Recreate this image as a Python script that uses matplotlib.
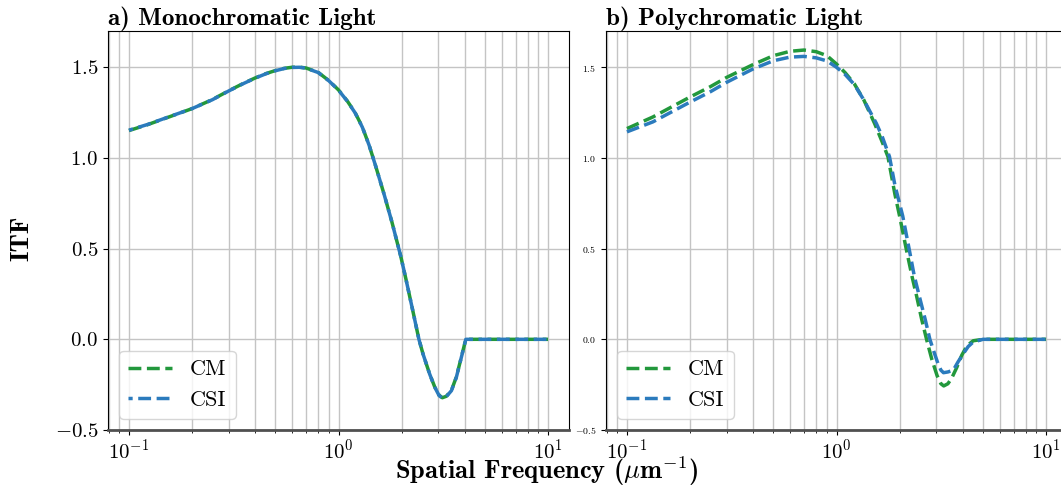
import numpy as np
import matplotlib
matplotlib.use('Agg')
import matplotlib.pyplot as plt

plt.rcParams['font.family'] = 'serif'
plt.rcParams['font.serif'] = ['cmr10']
plt.rcParams['mathtext.fontset'] = 'cm'
plt.rcParams['axes.formatter.use_mathtext'] = True

# a) monochromatic light
mono_freq = [0.1, 0.123, 0.151, 0.2, 0.25, 0.3, 0.35, 0.4, 0.45, 0.5, 0.55, 0.6, 0.65,
             0.7, 0.8, 0.9, 1.0, 1.1, 1.2, 1.3, 1.4, 1.5, 1.65, 1.8, 1.98, 2.1, 2.27,
             2.42, 2.53, 2.72, 2.88, 3.02, 3.13, 3.27, 3.46, 3.65, 3.86, 4.05, 5, 6, 7,
             8, 9, 10]
mono_cm = [1.151, 1.184, 1.221, 1.272, 1.322, 1.371, 1.41, 1.441, 1.465, 1.482, 1.494,
           1.5, 1.501, 1.496, 1.472, 1.426, 1.375, 1.315, 1.25, 1.17, 1.07, 0.96, 0.80,
           0.645, 0.46, 0.33, 0.15, 0.0, -0.08, -0.19, -0.263, -0.308, -0.322, -0.314,
           -0.281, -0.208, -0.097, 0.0, 0, 0, 0, 0, 0, 0]
mono_csi = [1.153, 1.185, 1.222, 1.272, 1.321, 1.370, 1.409, 1.440, 1.464, 1.481, 1.493,
            1.499, 1.500, 1.495, 1.471, 1.425, 1.374, 1.314, 1.249, 1.169, 1.07, 0.96,
            0.80, 0.645, 0.46, 0.33, 0.15, 0.0, -0.08, -0.19, -0.264, -0.31, -0.324,
            -0.316, -0.283, -0.21, -0.098, 0.0, 0, 0, 0, 0, 0, 0]

# b) polychromatic light
poly_freq_cm = [0.1, 0.133, 0.2, 0.25, 0.3, 0.4, 0.5, 0.6, 0.7, 0.8, 0.9, 1.0, 1.1, 1.216,
                1.35, 1.52, 1.65, 1.76, 1.9, 2.0, 2.15, 2.3, 2.41, 2.55, 2.69, 2.85, 3.02,
                3.15, 3.25, 3.4, 3.54, 3.75, 3.96, 4.2, 4.49, 5, 6, 7, 8, 9, 10]
poly_cm = [1.162, 1.226, 1.336, 1.393, 1.445, 1.515, 1.564, 1.588, 1.595, 1.586, 1.564,
           1.518, 1.47, 1.409, 1.32, 1.19, 1.09, 1.007, 0.80, 0.68, 0.50, 0.34, 0.24, 0.11,
           0.0, -0.11, -0.2, -0.245, -0.257, -0.245, -0.216, -0.155, -0.088, -0.035,
           -0.008, 0, 0, 0, 0, 0, 0]
poly_freq_csi = [0.1, 0.133, 0.2, 0.25, 0.3, 0.4, 0.5, 0.6, 0.7, 0.8, 0.9, 1.0, 1.1, 1.216,
                 1.35, 1.55, 1.65, 1.79, 1.9, 2.07, 2.22, 2.35, 2.49, 2.65, 2.79, 2.92,
                 3.05, 3.15, 3.24, 3.4, 3.61, 3.8, 4.03, 4.25, 4.49, 5, 6, 7, 8, 9, 10]
poly_csi = [1.144, 1.199, 1.308, 1.365, 1.418, 1.491, 1.536, 1.556, 1.56, 1.552, 1.535,
            1.50, 1.46, 1.405, 1.32, 1.19, 1.12, 1.007, 0.85, 0.68, 0.50, 0.35, 0.233,
            0.11, 0.0, -0.07, -0.134, -0.17, -0.184, -0.18, -0.17, -0.125, -0.079, -0.04,
            -0.015, 0, 0, 0, 0, 0, 0]

green = '#22983c'
blue = '#2b7bbd'

fig = plt.figure(figsize=(10.61, 4.88), dpi=100)
ax1 = fig.add_axes([108/1061, 58/488, 461/1061, 399/488])
ax2 = fig.add_axes([606/1061, 58/488, 461/1061, 399/488])

# csi dashes shifted a bit so the green shows through the gaps, like the original
ax1.plot(mono_freq, mono_cm, '--', color=green, lw=2.5, label='CM')
ax1.plot(mono_freq, mono_csi, color=blue, lw=2.5, label='CSI', ls=(2.5, (3.7, 1.6)))
ax2.plot(poly_freq_cm, poly_cm, '--', color=green, lw=2.5, label='CM')
ax2.plot(poly_freq_csi, poly_csi, '--', color=blue, lw=2.5, label='CSI')

for ax in [ax1, ax2]:
    ax.set_xscale('log')
    ax.set_ylim(-0.5, 1.7)
    ax.set_yticks([-0.5, 0.0, 0.5, 1.0, 1.5])
    ax.grid(True, which='both', axis='x', color='#c4c4c4', lw=1.0)
    ax.grid(True, which='major', axis='y', color='#c4c4c4', lw=1.0)
    ax.set_axisbelow(True)
    ax.spines['bottom'].set_color('#505050')
    ax.spines['bottom'].set_linewidth(2)
    ax.tick_params(axis='x', labelsize=15, pad=2.5)
    ax.legend(loc='lower left', fontsize=16)

ax1.tick_params(axis='y', labelsize=15)
ax2.tick_params(axis='y', labelsize=7)

ax1.set_title('a) Monochromatic Light', loc='left', fontsize=18, fontfamily='cmb10', pad=4)
ax2.set_title('b) Polychromatic Light', loc='left', fontsize=18, fontfamily='cmb10', pad=4)

fig.text(22/1061, 1 - 238/488, 'ITF', rotation=90, ha='center', va='center',
         fontsize=19, fontfamily='cmb10')
fig.text(547/1061, 1 - 479/488, 'Spatial Frequency ($\\mu$m$^{\\mathbf{-1}}$)', ha='center',
         va='baseline', fontsize=19, fontfamily='cmb10')

fig.savefig('out.png', dpi=100)
